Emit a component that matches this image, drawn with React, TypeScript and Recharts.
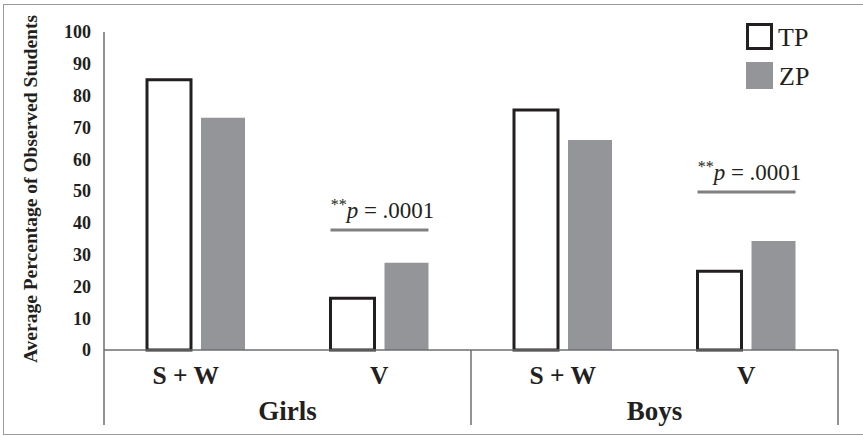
import React from 'react';
import { BarChart, Bar, XAxis, YAxis } from 'recharts';

const categories = ['S + W', 'V', 'S + W', 'V'];
const groups = ['Girls', 'Girls', 'Boys', 'Boys'];
const tpValues = [85, 16.3, 75.5, 24.8];
const zpValues = [73, 27.4, 66, 34.3];
const sigValues: (number | null)[] = [null, 37.7, null, 49.7];
const sigText = ' = .0001';
const yTicks = [0, 10, 20, 30, 40, 50, 60, 70, 80, 90, 100];
const yLabel = 'Average Percentage of Observed Students';
const seriesNames = ['TP', 'ZP'];

const data = categories.map((c, i) => ({
  id: `${groups[i]}-${c}-${i}`,
  cat: c,
  group: groups[i],
  TP: tpValues[i],
  ZP: zpValues[i],
  sig: sigValues[i],
}));

const FONT = '"Liberation Serif", "DejaVu Serif", serif';
const INK = '#231f20';
const GRAY = '#939598';
const AXIS = '#6d6e71';
// small label nudges seen in the original layout
const LABEL_DX = [-10, 0, 0, 0];

const GroupTick = (props: any) => {
  const { x, y, payload } = props;
  const i: number = payload.index ?? props.index;
  const half: number = payload.offset ?? 91.75;
  const first = i === 0 || groups[i - 1] !== groups[i];
  const last = i === data.length - 1 || groups[i + 1] !== groups[i];
  return (
    <g>
      <text x={x + LABEL_DX[i]} y={y + 34} textAnchor="middle" fontFamily={FONT} fontWeight="bold" fontSize={25.5} fill={INK}>
        {categories[i]}
      </text>
      {i === 0 && first && (
        <line x1={x - half} x2={x - half} y1={y} y2={y + 75} stroke={AXIS} strokeWidth={1.5} />
      )}
      {last && (
        <>
          <line x1={x + half} x2={x + half} y1={y} y2={y + 75} stroke={AXIS} strokeWidth={1.5} />
          <text x={x - half} y={y + 70} textAnchor="middle" fontFamily={FONT} fontWeight="bold" fontSize={27} fill={INK}>
            {groups[i]}
          </text>
        </>
      )}
    </g>
  );
};

const SigShape = (props: any) => {
  const { x, y, width, payload } = props;
  if (payload == null || payload.sig == null || !width) return null;
  return (
    <g>
      <line x1={x} x2={x + width} y1={y} y2={y} stroke="#808080" strokeWidth={3} />
      <text x={x + width / 2 + 3} y={y - 12} textAnchor="middle" fontFamily={FONT} fontSize={23} fill={INK}>
        <tspan fontSize={16} dy={-8}>**</tspan>
        <tspan dy={8} fontStyle="italic">p</tspan>
        <tspan>{sigText}</tspan>
      </text>
    </g>
  );
};

const LegendBox = () => (
  <svg width={90} height={70} style={{ position: 'absolute', left: 746, top: 23 }}>
    <rect x={1.5} y={1.5} width={24} height={24} fill="#fff" stroke={INK} strokeWidth={3} />
    <text x={32} y={23} fontFamily={FONT} fontSize={26} fill={INK}>{seriesNames[0]}</text>
    <rect x={0} y={39} width={27} height={27} fill={GRAY} />
    <text x={33} y={62} fontFamily={FONT} fontSize={26} fill={INK}>{seriesNames[1]}</text>
  </svg>
);

const YLabel = (props: any) => {
  const vb = props.viewBox || {};
  const cx = (vb.x ?? 0) + 30;
  const cy = (vb.y ?? 0) + (vb.height ?? 0) / 2 - 2;
  return (
    <text
      x={cx}
      y={cy}
      transform={`rotate(-90, ${cx}, ${cy})`}
      textAnchor="middle"
      dominantBaseline="central"
      fontFamily={FONT}
      fontWeight="bold"
      fontSize={19.5}
      fill={INK}
    >
      {yLabel}
    </text>
  );
};

export default function App() {
  return (
    <div style={{ position: 'absolute', left: 0, top: 0, width: 863, height: 437, background: '#fff' }}>
      <div
        style={{
          position: 'absolute',
          left: 3,
          top: 4,
          width: 870,
          height: 431,
          borderLeft: '1.5px solid #9a9a9a',
          borderTop: '1.5px solid #9a9a9a',
          borderBottom: '1.5px solid #9a9a9a',
          boxSizing: 'border-box',
        }}
      />
      <div style={{ position: 'absolute', left: 0, top: 0 }}>
        <BarChart
          width={863}
          height={437}
          data={data}
          margin={{ top: 32, right: 25, left: 0, bottom: 0 }}
          barCategoryGap={43}
          barGap={10}
        >
          <XAxis
            dataKey="id"
            height={87}
            axisLine={{ stroke: AXIS, strokeWidth: 1.5 }}
            tickLine={false}
            tickSize={0}
            tickMargin={0}
            interval={0}
            tick={<GroupTick />}
          />
          <XAxis xAxisId="sig" dataKey="id" hide />
          <YAxis
            width={104}
            domain={[0, 100]}
            ticks={yTicks}
            interval={0}
            axisLine={{ stroke: AXIS, strokeWidth: 1.5 }}
            tickLine={false}
            tickSize={0}
            tickMargin={13}
            tick={{ fontFamily: FONT, fontWeight: 'bold', fontSize: 18, fill: INK }}
            label={<YLabel />}
          />
          <Bar dataKey="TP" fill="#ffffff" stroke={INK} strokeWidth={3} isAnimationActive={false} />
          <Bar dataKey="ZP" fill={GRAY} isAnimationActive={false} />
          <Bar dataKey="sig" xAxisId="sig" isAnimationActive={false} shape={<SigShape />} legendType="none" />
        </BarChart>
      </div>
      <LegendBox />
    </div>
  );
}
